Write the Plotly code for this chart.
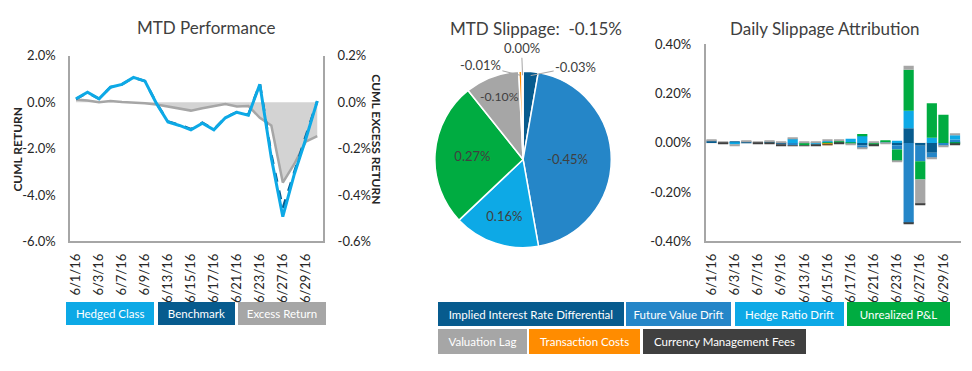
import math
import plotly.graph_objects as go

W, H = 972, 371

# ---------------- data ----------------
dates = ['6/1/16', '6/2/16', '6/3/16', '6/6/16', '6/7/16', '6/8/16', '6/9/16', '6/10/16',
         '6/13/16', '6/14/16', '6/15/16', '6/16/16', '6/17/16', '6/20/16', '6/21/16',
         '6/22/16', '6/23/16', '6/24/16', '6/27/16', '6/28/16', '6/29/16', '6/30/16']
tick_dates = dates[::2]

hedged = [0.15, 0.43, 0.15, 0.65, 0.77, 1.07, 0.91, -0.05, -0.85, -1.00, -1.19, -0.90,
          -1.19, -0.67, -0.43, -0.56, 0.77, -2.40, -4.93, -3.10, -1.58, 0.05]
benchmark = [0.14, 0.42, 0.15, 0.65, 0.77, 1.07, 0.91, -0.04, -0.83, -0.97, -1.16, -0.88,
             -1.17, -0.66, -0.42, -0.54, 0.80, -2.25, -4.56, -2.95, -1.45, 0.05]
excess = [0.012, 0.008, 0.000, 0.005, 0.001, 0.000, -0.004, -0.010, -0.019, -0.029, -0.036,
          -0.026, -0.016, -0.008, -0.018, -0.016, -0.067, -0.100, -0.346, -0.266, -0.170, -0.146]

ret_ticks = [2.0, 0.0, -2.0, -4.0, -6.0]
exc_ticks = [0.2, 0.0, -0.2, -0.4, -0.6]
slip_ticks = [0.40, 0.20, 0.00, -0.20, -0.40]

comp_names = ['Implied Interest Rate Differential', 'Future Value Drift', 'Hedge Ratio Drift',
              'Unrealized P&L', 'Valuation Lag', 'Transaction Costs', 'Currency Management Fees']
comp_colors = ['#075B8E', '#2586C8', '#0DA9E6', '#00AC41', '#A6A6A6', '#FF8C00', '#404040']

iird = [0.010, 0, 0.004, 0.006, 0, 0, -0.006, 0, 0, 0, 0, 0, 0, -0.010, 0, 0, -0.009, 0.060,
        -0.012, -0.040, 0, 0.004]
fvd = [0, 0, 0, 0, 0, 0, 0, -0.010, 0, 0, 0, 0, 0, -0.012, 0, 0, -0.018, -0.325, -0.062,
       -0.020, -0.012, 0.010]
hrd = [0, 0, -0.006, 0, 0, 0.006, 0, 0.017, 0, -0.007, 0.008, 0, 0.017, 0.028, 0, 0.003,
       0.009, 0.071, 0, 0.021, 0, 0.017]
upl = [0, 0, 0, 0, 0, 0, 0, 0, -0.010, 0, -0.002, 0.008, -0.003, 0.008, -0.009, 0.005,
       -0.047, 0.166, -0.074, 0.140, 0.114, -0.004]
vl = [0.002, 0.004, -0.004, 0.003, 0.004, 0.003, 0.004, 0.003, 0.004, 0.004, 0.003, 0.003,
      -0.003, -0.004, 0.005, -0.004, -0.004, 0.016, -0.100, -0.004, -0.004, 0.005]
tc = [0, 0, 0, 0, 0, 0, 0, 0, 0, 0, -0.004, 0, 0, 0, 0, 0, 0, 0, 0, 0, 0, 0]
cmf = [0, -0.004, 0, 0, -0.004, -0.003, -0.004, -0.003, -0.003, -0.003, -0.003, -0.002, 0, 0,
       -0.004, 0, 0, -0.004, -0.004, 0, 0, -0.004]
daily = [iird, fvd, hrd, upl, vl, tc, cmf]

pie_values = [-0.028, -0.452, 0.160, 0.268, -0.101, -0.006, 0.002]
mtd_title = 'MTD Slippage:  -0.15%'

perf_legend = ['Hedged Class', 'Benchmark', 'Excess Return']
perf_colors = ['#0DA9E6', '#075B8E', '#A6A6A6']

# ---------------- helpers ----------------
def px(x):
    return x / W

def py(y):
    return 1 - y / H

def fmt(v, d):
    s = f"{v:.{d}f}"
    if float(s) == 0:
        s = s.lstrip('-')
    return s + '%'

FONT = 'Lato, sans-serif'
TXT = '#262626'
AX = '#A6A6A6'

fig = go.Figure()

# ---------------- MTD performance ----------------
fig.add_trace(go.Scatter(x=dates, y=excess, xaxis='x', yaxis='y', mode='lines',
                         line=dict(color='#A6A6A6', width=2.5), fill='tozeroy',
                         fillcolor='#D3D3D3', name='Excess Return', showlegend=False))
fig.add_trace(go.Scatter(x=dates, y=benchmark, xaxis='x', yaxis='y2', mode='lines',
                         line=dict(color='#075B8E', width=2.5, dash='dash'), name='Benchmark',
                         showlegend=False))
fig.add_trace(go.Scatter(x=dates, y=hedged, xaxis='x', yaxis='y2', mode='lines',
                         line=dict(color='#0DA9E6', width=3), name='Hedged Class',
                         showlegend=False))

# ---------------- pie ----------------
pie_abs = [abs(v) for v in pie_values]
pie_text = [fmt(v, 2) for v in pie_values]
tpos = ['inside' if a >= 0.05 else 'none' for a in pie_abs]
pcx, pcy, pr = 521.7, 158.3, 88
dom = pr * 88 / 84
fig.add_trace(go.Pie(values=pie_abs, labels=comp_names, text=pie_text, textinfo='text',
                     textposition=tpos, insidetextorientation='horizontal',
                     marker=dict(colors=comp_colors, line=dict(color='white', width=1.5)),
                     sort=False, direction='clockwise', rotation=0,
                     domain=dict(x=[px(pcx - dom), px(pcx + dom)],
                                 y=[py(pcy + dom), py(pcy - dom)]),
                     textfont=dict(family=FONT, size=13, color='#404040'),
                     showlegend=False, hoverinfo='label+text'))

# ---------------- daily slippage bars ----------------
for name, col, vals in zip(comp_names, comp_colors, daily):
    fig.add_trace(go.Bar(x=dates, y=vals, xaxis='x2', yaxis='y3', name=name,
                         marker=dict(color=col, line=dict(width=0)), showlegend=False))

axis_common = dict(showgrid=False, zeroline=False, showline=True, linecolor=AX, linewidth=2,
                   tickfont=dict(family=FONT, size=13, color=TXT), fixedrange=True)

fig.update_layout(
    width=W, height=H, autosize=False, margin=dict(l=0, r=0, t=0, b=0),
    paper_bgcolor='white', plot_bgcolor='white', barmode='relative', bargap=0.12,
    font=dict(family=FONT, color=TXT),
    xaxis=dict(axis_common, type='category', domain=[px(67.5), px(321)], anchor='y',
               range=[-0.5, 21.5], tickmode='array', tickvals=tick_dates, ticktext=tick_dates,
               tickangle=-90, ticks='', ticklabelstandoff=5),
    yaxis=dict(axis_common, domain=[py(244), py(50)], anchor='x', side='right',
               range=[exc_ticks[-1], exc_ticks[0]], tickmode='array', tickvals=exc_ticks,
               ticktext=[fmt(v, 1) for v in exc_ticks], ticks='', ticklabelstandoff=10),
    yaxis2=dict(axis_common, overlaying='y', anchor='x', side='left',
                range=[ret_ticks[-1], ret_ticks[0]], tickmode='array', tickvals=ret_ticks,
                ticktext=[fmt(v, 1) for v in ret_ticks], ticks='', ticklabelstandoff=10),
    xaxis2=dict(axis_common, type='category', domain=[px(704.9), px(960.8)], anchor='y3',
                range=[-0.5, 21.5], tickmode='array', tickvals=tick_dates, ticktext=tick_dates,
                tickangle=-90, ticks='', ticklabelstandoff=5),
    yaxis3=dict(axis_common, domain=[py(244), py(38)], anchor='x2',
                range=[slip_ticks[-1], slip_ticks[0]], tickmode='array', tickvals=slip_ticks,
                ticktext=[fmt(v, 2) for v in slip_ticks], ticks='', ticklabelstandoff=10,
                zeroline=True, zerolinecolor='#F2F2F2', zerolinewidth=1.5, layer='above traces'),
)

ann = []
title_font = dict(family=FONT, size=17, color='#404040')

def label(text, x, y, font, angle=0):
    ann.append(dict(text=text, x=px(x), y=py(y), xref='paper', yref='paper', xanchor='center',
                    yanchor='middle', showarrow=False, font=font, textangle=angle))

label('MTD Performance', 204, 20, title_font)
label(mtd_title, 535, 21, title_font)
label('Daily Slippage Attribution', 825, 21, title_font)
label('<b>CUML RETURN</b>', 15, 147, dict(family=FONT, size=12, color=TXT), -90)
label('<b>CUML EXCESS RETURN</b>', 375, 137, dict(family=FONT, size=12, color=TXT), 90)

# outside pie labels with leader lines
cum = 0
total = sum(pie_abs)
offsets = {0: (45, -9), 5: (-40, -10), 6: (-1, -27)}
for i, a in enumerate(pie_abs):
    mid = (cum + a / 2) / total * 2 * math.pi
    cum += a
    if i in offsets:
        tx = pcx + pr * math.sin(mid)
        ty = pcy - pr * math.cos(mid)
        ax, ay = offsets[i]
        ann.append(dict(text=pie_text[i], x=px(tx), y=py(ty), xref='paper', yref='paper',
                        showarrow=True, arrowhead=0, arrowwidth=1, arrowcolor='#A6A6A6',
                        ax=ax, ay=ay, standoff=0,
                        font=dict(family=FONT, size=13, color='#404040')))

# legend boxes
def box(text, color, x0, x1, y0, y1):
    ann.append(dict(text=text, x=px(x0), y=py(y0), xref='paper', yref='paper', xanchor='left',
                    yanchor='top', showarrow=False, bgcolor=color, width=x1 - x0,
                    height=y1 - y0, borderpad=0, borderwidth=0, align='center',
                    valign='middle', font=dict(family=FONT, size=11.5, color='white')))

perf_boxes = [(62.7, 151), (155, 231.7), (236, 324)]
for t, c, (a, b) in zip(perf_legend, perf_colors, perf_boxes):
    box(t, c, a, b, 307, 330)

comp_boxes = [(436.7, 622.3, 307, 331), (625, 730, 307, 331), (734, 843, 307, 331),
              (847, 950, 307, 331), (436, 525, 335, 360), (527.7, 639, 335, 360),
              (642, 805, 335, 360)]
for t, c, (a, b, y0, y1) in zip(comp_names, comp_colors, comp_boxes):
    box(t, c, a, b, y0, y1)

fig.update_layout(annotations=ann)
fig.write_html('out.html', config={'displayModeBar': False},
               post_script="document.body.style.margin='0';")
